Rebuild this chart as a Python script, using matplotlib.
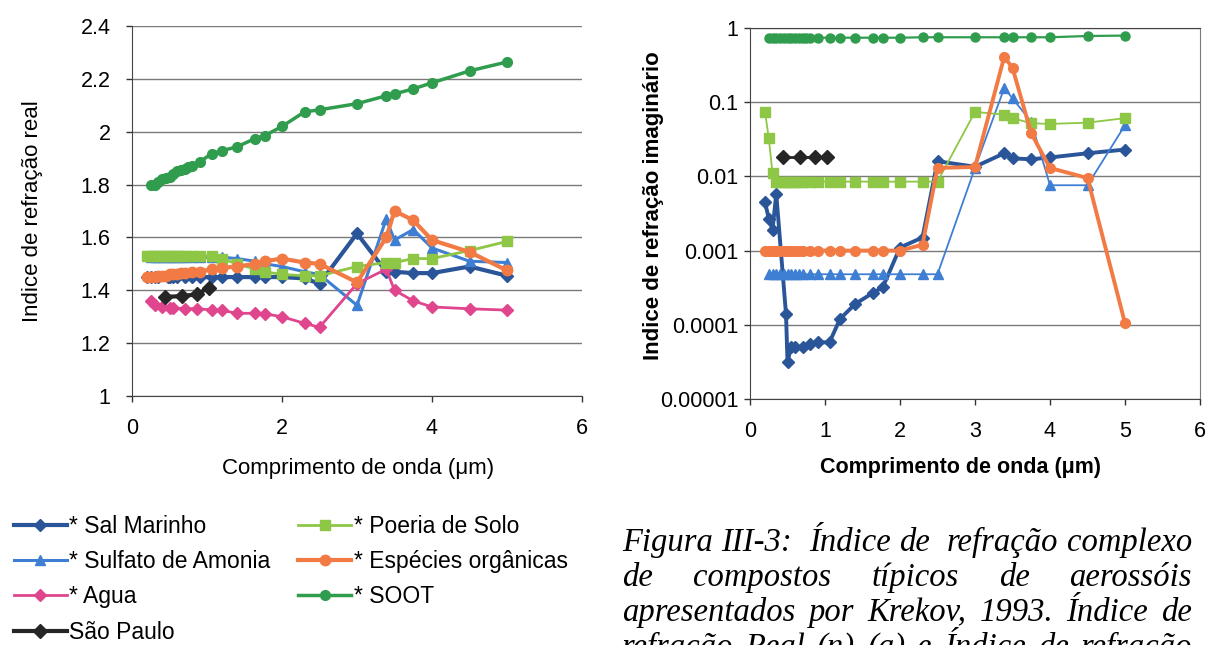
import numpy as np
import matplotlib.pyplot as plt

plt.rcParams['font.family'] = ['Liberation Sans', 'DejaVu Sans']

# Krekov (1993) aerosol components: wavelength [um], real n, imaginary k
wl_sal = [0.2, 0.25, 0.3, 0.35, 0.48, 0.5, 0.55, 0.6, 0.7, 0.8, 0.9, 1.06, 1.2, 1.4, 1.64, 1.77,
          2.0, 2.3, 2.5, 3.0, 3.39, 3.5, 3.75, 4.0, 4.5, 5.0]
n_sal = [1.45]*17 + [1.445, 1.425, 1.615, 1.47, 1.47, 1.465, 1.465, 1.49, 1.455]
k_sal = [0.0045, 0.0027, 0.0019, 0.0058, 0.00014, 3.2e-5, 5e-5, 5e-5, 5e-5, 5.5e-5, 5.8e-5, 5.8e-5,
         1.2e-4, 1.9e-4, 2.7e-4, 3.2e-4, 0.0011, 0.0015, 0.016, 0.0135, 0.0205, 0.0175, 0.017,
         0.018, 0.0205, 0.023]

wl_sulf = [0.25, 0.3, 0.35, 0.4, 0.45, 0.5, 0.55, 0.6, 0.65, 0.7, 0.8, 0.9, 1.06, 1.2, 1.4, 1.64,
           1.77, 2.0, 2.3, 2.5, 3.0, 3.39, 3.5, 3.75, 4.0, 4.5, 5.0]
n_sulf = [1.525]*14 + [1.52, 1.51, 1.50, 1.49, 1.47, 1.46, 1.343, 1.67, 1.59, 1.63, 1.56, 1.51, 1.505]
k_sulf = [4.8e-4]*20 + [0.013, 0.155, 0.113, 0.054, 0.0076, 0.0076, 0.049]

wl_agua = [0.25, 0.3, 0.4, 0.5, 0.55, 0.7, 0.87, 1.06, 1.2, 1.4, 1.64, 1.77, 2.0, 2.3, 2.5, 3.0,
           3.39, 3.5, 3.75, 4.0, 4.5, 5.0]
n_agua = [1.36, 1.345, 1.335, 1.333, 1.333, 1.331, 1.33, 1.326, 1.324, 1.313, 1.313, 1.311, 1.30,
          1.275, 1.26, 1.425, 1.48, 1.40, 1.36, 1.337, 1.33, 1.325]

wl_poeira = [0.2, 0.25, 0.3, 0.35, 0.4, 0.45, 0.5, 0.55, 0.6, 0.65, 0.7, 0.8, 0.9, 1.06, 1.2, 1.4,
             1.64, 1.77, 2.0, 2.3, 2.5, 3.0, 3.39, 3.5, 3.75, 4.0, 4.5, 5.0]
n_poeira = [1.53]*14 + [1.52, 1.50, 1.48, 1.47, 1.46, 1.455, 1.455, 1.49, 1.505, 1.505, 1.52, 1.52,
                        1.55, 1.585]
k_poeira = [0.074, 0.033, 0.011] + [0.0085]*18 + [0.074, 0.068, 0.061, 0.052, 0.051, 0.053, 0.061]

wl_org = wl_poeira
n_org = [1.45, 1.45, 1.45, 1.455, 1.455, 1.455, 1.46, 1.46, 1.46, 1.465, 1.465, 1.47, 1.47, 1.48,
         1.485, 1.49, 1.50, 1.51, 1.52, 1.505, 1.50, 1.43, 1.60, 1.70, 1.665, 1.59, 1.545, 1.475]
k_org = [0.001]*19 + [0.0012, 0.013, 0.0134, 0.41, 0.29, 0.038, 0.013, 0.0095, 0.000105]

wl_soot = [0.25, 0.3, 0.35, 0.4, 0.45, 0.5, 0.55, 0.6, 0.65, 0.7, 0.75, 0.8, 0.9, 1.06, 1.2, 1.4,
           1.64, 1.77, 2.0, 2.3, 2.5, 3.0, 3.39, 3.5, 3.75, 4.0, 4.5, 5.0]
n_soot = [1.80, 1.80, 1.81, 1.82, 1.825, 1.83, 1.84, 1.85, 1.855, 1.86, 1.865, 1.87, 1.885, 1.917,
          1.928, 1.943, 1.974, 1.985, 2.02, 2.075, 2.083, 2.106, 2.136, 2.143, 2.162, 2.185, 2.23,
          2.264]
k_soot = [0.74]*19 + [0.75]*7 + [0.78, 0.79]

# Sao Paulo retrieval
wl_sp = [0.44, 0.67, 0.87, 1.02]
n_sp = [1.375, 1.378, 1.385, 1.41]
k_sp = [0.018, 0.018, 0.018, 0.018]

yticks_real = [1.0, 1.2, 1.4, 1.6, 1.8, 2.0, 2.2, 2.4]
ylabels_real = ['1', '1.2', '1.4', '1.6', '1.8', '2', '2.2', '2.4']
yticks_imag = [1e-5, 1e-4, 1e-3, 1e-2, 1e-1, 1]
ylabels_imag = ['0.00001', '0.0001', '0.001', '0.01', '0.1', '1']

caption = ['Figura III-3:  Índice de  refração complexo',
           'de compostos típicos de aerossóis',
           'apresentados por Krekov, 1993. Índice de',
           'refração Real (n) (a) e Índice de refração']

C_SAL = '#2A5599'
C_SULF = '#3F7FD3'
C_AGUA = '#E0468E'
C_POE = '#8EC645'
C_ORG = '#F27B45'
C_SOOT = '#2F9C4E'
C_SP = '#262626'
GRID = '#7A7A7A'

W, H = 1209, 645
fig = plt.figure(figsize=(W/100, H/100), dpi=100)
ax1 = fig.add_axes([132/W, 1-396/H, 450/W, 370/H])
ax2 = fig.add_axes([750/W, 1-399/H, 450/W, 371/H])

# real part
ax1.plot(wl_sal, n_sal, '-D', color=C_SAL, lw=3.0, ms=6.5, label='* Sal Marinho')
ax1.plot(wl_sulf, n_sulf, '-^', color=C_SULF, lw=2.2, ms=7.5, label='* Sulfato de Amonia')
ax1.plot(wl_agua, n_agua, '-D', color=C_AGUA, lw=2.0, ms=6.5, label='* Agua')
ax1.plot(wl_sp, n_sp, '-D', color=C_SP, lw=3.0, ms=7.5, label='São Paulo', zorder=5)
ax1.plot(wl_poeira, n_poeira, '-s', color=C_POE, lw=2.0, ms=6.5, label='* Poeria de Solo')
ax1.plot(wl_org, n_org, '-o', color=C_ORG, lw=3.0, ms=7.5, label='* Espécies orgânicas')
ax1.plot(wl_soot, n_soot, '-o', color=C_SOOT, lw=2.5, ms=7.0, label='* SOOT')

ax1.set_xlim(0, 6)
ax1.set_ylim(1, 2.4)
ax1.set_xticks([0, 2, 4, 6])
ax1.set_yticks(yticks_real)
ax1.set_yticklabels(ylabels_real)
ax1.yaxis.grid(True, color=GRID, lw=1.0)
ax1.set_axisbelow(True)
for s in ['top', 'right']:
    ax1.spines[s].set_visible(False)
ax1.set_xlabel('Comprimento de onda (μm)', fontsize=16)
ax1.xaxis.set_label_coords(0.502, -0.167)
ax1.set_ylabel('Indice de refração real', fontsize=16)
ax1.yaxis.set_label_coords(-0.198, 0.5)

# imaginary part
ax2.plot(wl_sal, k_sal, '-D', color=C_SAL, lw=2.8, ms=6.0)
ax2.plot(wl_sulf, k_sulf, '-^', color=C_SULF, lw=1.3, ms=7.5)
ax2.plot(wl_sp, k_sp, '-D', color=C_SP, lw=2.0, ms=7.5, zorder=5)
ax2.plot(wl_poeira, k_poeira, '-s', color=C_POE, lw=1.3, ms=6.5)
ax2.plot(wl_org, k_org, '-o', color=C_ORG, lw=2.8, ms=7.0)
ax2.plot(wl_soot, k_soot, '-o', color=C_SOOT, lw=1.6, ms=6.5)

ax2.set_yscale('log')
ax2.set_xlim(0, 6)
ax2.set_ylim(1e-5, 1)
ax2.set_xticks(range(7))
ax2.set_yticks(yticks_imag)
ax2.set_yticklabels(ylabels_imag)
ax2.yaxis.set_minor_locator(plt.NullLocator())
ax2.yaxis.grid(True, color=GRID, lw=1.0)
ax2.set_axisbelow(True)
ax2.set_xlabel('Comprimento de onda (μm)', fontsize=15.5, fontweight='bold')
ax2.xaxis.set_label_coords(0.467, -0.157)
ax2.set_ylabel('Indice de refração imaginário', fontsize=16, fontweight='bold')
ax2.yaxis.set_label_coords(-0.192, 0.52)

for ax in (ax1, ax2):
    ax.tick_params(direction='out', length=4.5, width=1, labelsize=15.5, color='#333333')
    ax.tick_params(axis='x', pad=11)
    for s in ax.spines.values():
        s.set_color('#444444')
ax1.tick_params(axis='y', pad=11)
ax2.tick_params(axis='y', pad=4)
ax2.spines['right'].set_color(GRID)

fig.legend(handles=ax1.get_lines(), loc='upper left', bbox_to_anchor=(0.004, 1-506/H),
           ncol=2, frameon=False, fontsize=16.5, handlelength=2.3, handletextpad=0.12,
           labelspacing=0.53, columnspacing=1.2, borderaxespad=0)

# justified caption, italic serif
renderer = fig.canvas.get_renderer()
x0, x1 = 622, 1192
for i, line in enumerate(caption):
    words = line.split(' ')
    texts = [fig.text(0, 0, w, fontsize=23.5, family='Liberation Serif', style='italic',
                      va='baseline', ha='left') for w in words]
    widths = [t.get_window_extent(renderer).width if w else 0 for t, w in zip(texts, words)]
    gap = (x1 - x0 - sum(widths)) / (len(words) - 1)
    x = x0
    yb = 551 + 35*i
    for t, wd in zip(texts, widths):
        t.set_position((x/W, 1 - yb/H))
        x += wd + gap

fig.savefig('out.png', dpi=100)
